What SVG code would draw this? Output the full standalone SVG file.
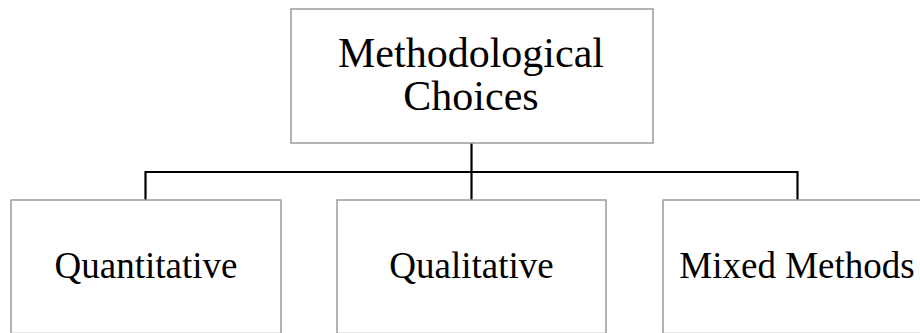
<svg xmlns="http://www.w3.org/2000/svg" width="920" height="333" viewBox="0 0 920 333">
  <style>
    .box { fill: #ffffff; stroke: #9a9a9a; stroke-width: 1.5; }
    .label { font-family: "Liberation Serif", "Times New Roman", serif; fill: #000000; text-anchor: middle; }
    .top { font-size: 42px; }
    .child { font-size: 37px; }
    .link { fill: none; stroke: #000000; stroke-width: 2.2; }
  </style>
  <rect width="920" height="333" fill="#ffffff"/>

  <!-- connectors: root to the three method boxes -->
  <g id="connectors">
    <path class="link" d="M471.5,143 V172"/>
    <path class="link" d="M145.5,172 H797.5"/>
    <path class="link" d="M145.5,171 V200"/>
    <path class="link" d="M471.5,172 V200"/>
    <path class="link" d="M797.5,171 V200"/>
  </g>

  <g id="methodological-choices">
    <rect class="box" x="291" y="9" width="362" height="134"/>
    <text class="label top" x="471" y="67">Methodological</text>
    <text class="label top" x="471" y="110">Choices</text>
  </g>

  <g id="quantitative">
    <rect class="box" x="11" y="200" width="270" height="133.5"/>
    <text class="label child" x="146" y="278">Quantitative</text>
  </g>

  <g id="qualitative">
    <rect class="box" x="337" y="200" width="269" height="133.5"/>
    <text class="label child" x="471.5" y="278">Qualitative</text>
  </g>

  <g id="mixed-methods">
    <rect class="box" x="663" y="200" width="268" height="133.5"/>
    <text class="label child" x="797" y="278">Mixed Methods</text>
  </g>
</svg>
